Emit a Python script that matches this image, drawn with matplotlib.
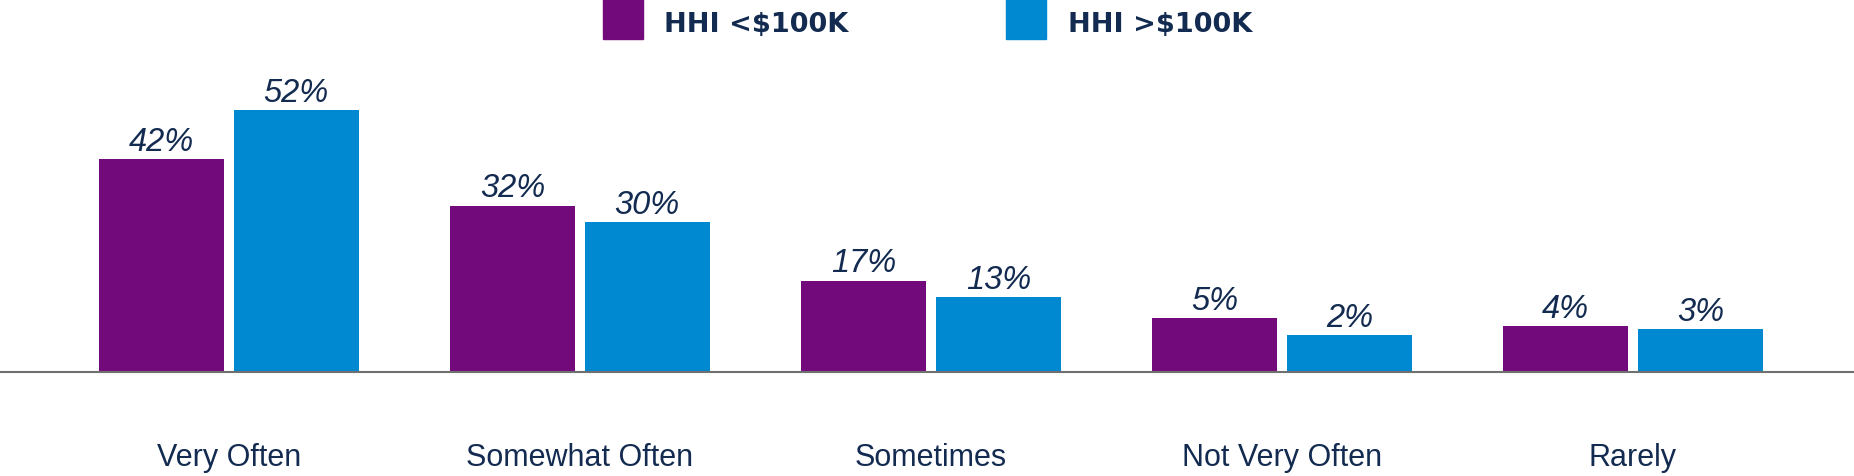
import matplotlib
matplotlib.use("Agg")
import matplotlib.pyplot as plt
from matplotlib.patches import Rectangle
import numpy as np

categories = ["Very Often", "Somewhat Often", "Sometimes", "Not Very Often", "Rarely"]
series_names = ["HHI <$100K", "HHI >$100K"]
# printed labels
low_labels = [42, 32, 17, 5, 4]
high_labels = [52, 30, 13, 2, 3]
# bar heights as drawn in the picture (the small bars are drawn taller than their labels)
low_heights = [42.2, 33.0, 18.1, 10.7, 9.0]
high_heights = [52.0, 29.8, 14.8, 7.3, 8.4]

purple = "#720A7B"
blue = "#0088D1"
navy = "#132B50"

fig = plt.figure(figsize=(18.54, 4.77), dpi=100)
ax = fig.add_axes([0, 0, 1, 1])

x = np.arange(len(categories))
w = 0.356
off = 0.1923
ax.bar(x - off, low_heights, w, color=purple, zorder=2)
ax.bar(x + off, high_heights, w, color=blue, zorder=2)

for xs, hs, vs in [(x - off, low_heights, low_labels), (x + off, high_heights, high_labels)]:
    for xi, h, v in zip(xs, hs, vs):
        ax.annotate(f"{v}%", (xi, h), xytext=(0, 6.7), textcoords="offset points",
                    ha="center", va="baseline", fontsize=23.5, style="italic",
                    fontfamily="Liberation Sans", color=navy)

for xi, c in zip(x, categories):
    ax.text(xi, -18.6, c, ha="center", va="baseline", fontsize=22,
            fontfamily="Liberation Sans", color=navy)

ax.axhline(0, color="#707070", lw=1.5, zorder=3)
ax.set_xlim(-0.652, 4.630)
ax.set_ylim(-20.74, 74.1)
ax.axis("off")

# legend
W, H = 1854, 477
for sx, tx, col, name in [(603, 664, purple, series_names[0]), (1006, 1068, blue, series_names[1])]:
    fig.patches.append(Rectangle((sx / W, 1 - 40 / H), 40 / W, 40 / H,
                                 transform=fig.transFigure, color=col))
    fig.text(tx / W, 1 - 32.3 / H, name, ha="left", va="baseline", fontsize=19.5,
             fontweight="bold", fontfamily="DejaVu Sans", color=navy)

fig.savefig("out.png", dpi=100)
